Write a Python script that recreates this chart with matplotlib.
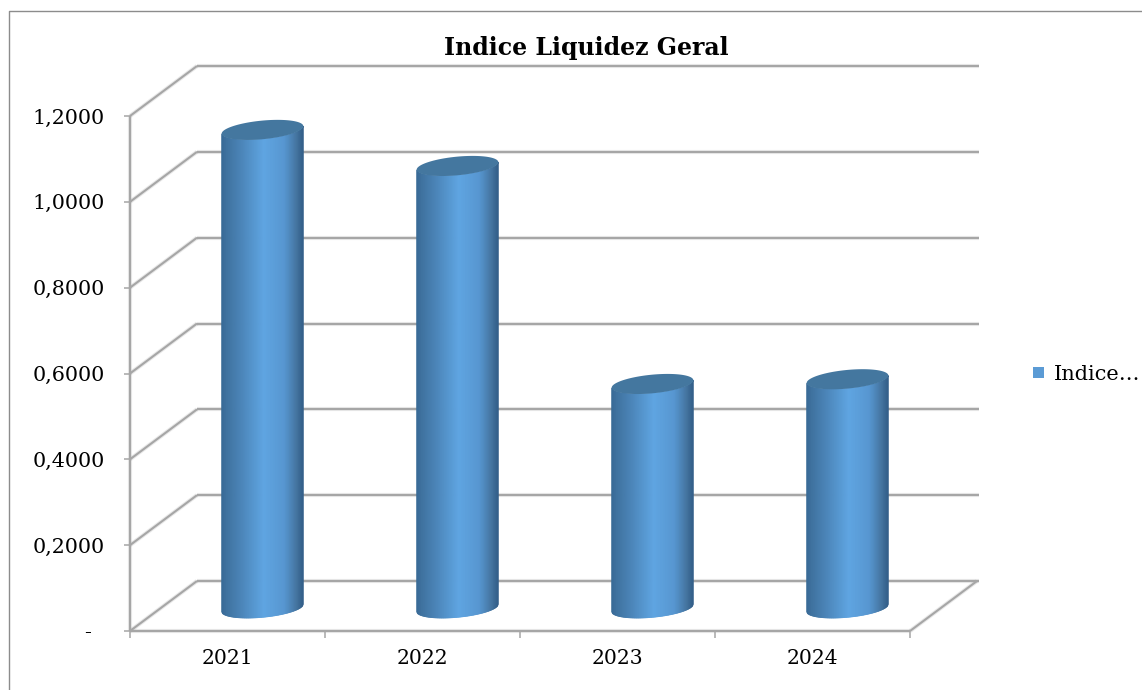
import numpy as np
import matplotlib
matplotlib.use("Agg")
import matplotlib.pyplot as plt
from matplotlib.transforms import Affine2D
from matplotlib.patches import Rectangle
from matplotlib.lines import Line2D
from matplotlib.colors import LinearSegmentedColormap

title = "Indice Liquidez Geral"
categories = ["2021", "2022", "2023", "2024"]
values = [1.114, 1.03, 0.522, 0.533]
y_ticks = [0, 0.2, 0.4, 0.6, 0.8, 1.0, 1.2]
y_labels = ["-  ", "0,2000", "0,4000", "0,6000", "0,8000", "1,0000", "1,2000"]
legend_label = "Indice\u2026"

W, H = 1142, 690
L, R, T, B = 130, 910, 116, 631
DEPTH = (67, 50)
BAR_DEPTH = (35, 23)
GRID = "#A6A6A6"
TEXT = "#000000"
FONT = "DejaVu Serif"

fig = plt.figure(figsize=(W / 100, H / 100), dpi=100, facecolor="white")
fig.add_artist(Line2D([8.5 / W, 8.5 / W, 1], [0, 1 - 10.5 / H, 1 - 10.5 / H], transform=fig.transFigure,
                      color="#8C8C8C", lw=1.0))
ax = fig.add_axes([L / W, 1 - B / H, (R - L) / W, (B - T) / H])
ax.set_xlim(-0.5, 3.5)
ax.set_ylim(0, 1.2)
ax.patch.set_visible(False)
for s in ("top", "right", "left", "bottom"):
    ax.spines[s].set_visible(False)

back = ax.transData + Affine2D().translate(*DEPTH)
mid = ax.transData + Affine2D().translate(*BAR_DEPTH)


def line(xs, ys, transform, z=1):
    ax.plot(xs, ys, color=GRID, lw=3.0, alpha=0.25, transform=transform, clip_on=False,
            zorder=z, solid_capstyle="butt")
    ax.plot(xs, ys, color=GRID, lw=1.5, transform=transform, clip_on=False, zorder=z + 0.1,
            solid_capstyle="butt")


x0, x1 = -0.5, 3.5
sx = (R - L) / 4
sy = (B - T) / 1.2
for v in y_ticks:
    line([x0, x1 + 0.008], [v, v], back)
    line([L, L + DEPTH[0]], [H - (B - v * sy), H - (B - v * sy) + DEPTH[1]], None)
line([R, R + DEPTH[0]], [H - B, H - B + DEPTH[1]], None)
line([x0, x1], [0, 0], ax.transData, z=1.5)
line([x0, x0], [0, 1.2], ax.transData, z=1.5)

ax.set_xticks([-0.5, 0.5, 1.5, 2.5, 3.5])
ax.set_xticklabels([])
ax.set_yticks(y_ticks)
ax.set_yticklabels(y_labels, family=FONT, fontsize=14.9, color=TEXT)
ax.tick_params(axis="y", length=4, width=1.1, color=GRID, pad=14)
ax.tick_params(axis="x", length=5, width=1.1, color=GRID)
for i, c in enumerate(categories):
    ax.annotate(c, (i, 0), xycoords="data", xytext=(0, -28), textcoords="offset pixels",
                ha="center", va="center", family=FONT, fontsize=14.6, color=TEXT)

cmap = LinearSegmentedColormap.from_list("cyl", [
    (0.00, "#386A96"), (0.06, "#3F729F"), (0.25, "#4C86BA"), (0.52, "#5FA5E2"),
    (0.78, "#5796D0"), (0.93, "#44749F"), (1.00, "#34608A")])

A, Bb, TILT = 41.0, 9.3, np.deg2rad(5.5)
t = np.linspace(0, 2 * np.pi, 241)
ex = (A * np.cos(t) * np.cos(TILT) - Bb * np.sin(t) * np.sin(TILT)) / sx
ey = (A * np.cos(t) * np.sin(TILT) + Bb * np.sin(t) * np.cos(TILT)) / sy
grid = np.linspace(ex.min(), ex.max(), 121)
lower = np.interp(grid, np.sort(ex[120:]), ey[120:][np.argsort(ex[120:])])
n = len(grid) - 1
for i, v in enumerate(values):
    for k in range(n):
        xa, xb = i + grid[k], i + grid[k + 1]
        col = cmap(k / (n - 1))
        ax.fill([xa, xb, xb, xa], [lower[k], lower[k + 1], v + lower[k + 1], v + lower[k]],
                facecolor=col, edgecolor=col, lw=0.5, transform=mid, clip_on=False, zorder=3)
    ax.fill(i + ex, v + ey, color="#44779F", lw=0, transform=mid, clip_on=False, zorder=3.2)

fig.text(586.5 / W, 1 - 48 / H, title, ha="center", va="center", family=FONT,
         fontsize=17, fontweight="bold", color=TEXT)
fig.add_artist(Rectangle((1033 / W, 1 - 378 / H), 11 / W, 11 / H, transform=fig.transFigure,
                         fc="#5B9BD5", ec="none"))
fig.text(1054 / W, 1 - 375 / H, legend_label, ha="left", va="center", family=FONT,
         fontsize=15, color=TEXT)

fig.savefig("out.png", dpi=100, facecolor="white")
